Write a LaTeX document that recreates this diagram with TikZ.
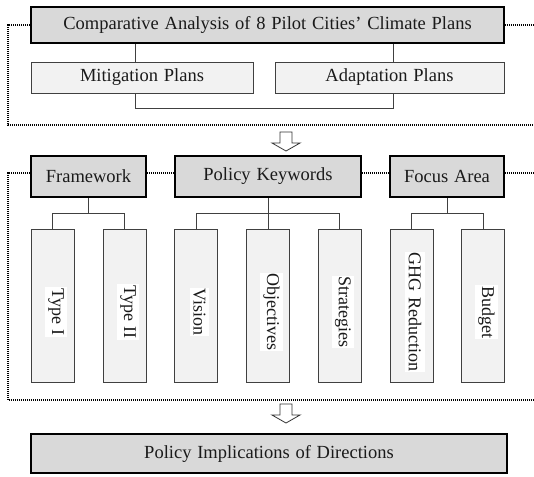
\documentclass[tikz,border=0pt]{standalone}
\usepackage{fontspec}
\setmainfont[WordSpace=1.25]{Liberation Serif}
\usetikzlibrary{calc}
\definecolor{maingray}{HTML}{D9D9D9}
\definecolor{lightgray2}{HTML}{F2F2F2}
\definecolor{txt}{HTML}{1A1A1A}
\tikzset{
  mainbox/.style={draw=black, line width=1.8pt, fill=maingray, inner sep=0pt, text=txt, font=\fontsize{18.5}{21}\selectfont},
  subbox/.style={draw=black!75, line width=0.9pt, fill=lightgray2, inner sep=0pt, text=txt, font=\fontsize{18.5}{21}\selectfont},
  tallbox/.style={draw=black!75, line width=0.9pt, fill=lightgray2, inner sep=0pt, minimum width=43pt, minimum height=153pt},
  vlabel/.style={fill=white, rotate=-90, inner xsep=1pt, inner ysep=3.5pt, text=txt, font=\fontsize{18}{20}\selectfont},
  conn/.style={draw=black!75, line width=0.9pt},
  frame/.style={draw=black, line width=1.8pt, dash pattern=on 1.1pt off 0.9pt},
  hollow/.style={draw=black!80, line width=0.8pt, fill=white, line join=miter}
}
\begin{document}
\begin{tikzpicture}[x=1pt, y=-1pt]
\useasboundingbox[fill=white] (0,0) rectangle (534,476);
\clip (0,0) rectangle (534,476);

% ---- block 1
\node[mainbox, minimum width=473pt, minimum height=36pt] (top) at (267.5,25) {Comparative Analysis of 8 Pilot Cities' Climate Plans};
\node[subbox, minimum width=222pt, minimum height=31pt] (mit) at (142,77.5) {Mitigation Plans};
\node[subbox, minimum width=229pt, minimum height=31pt] (ada) at (389.5,77.5) {Adaptation Plans};

\coordinate (fa) at (8,25);
\coordinate (fb) at (8,125);
\coordinate (fc) at (540,125);
\coordinate (fd) at (540,25);
\draw[frame] (top.west) -- (fa) -- (fb) -- (fc);
\draw[frame] (top.east) -- (fd);

\draw[conn] (top.south -| 135,0) -- (mit.north -| 135,0);
\draw[conn] (top.south -| 393,0) -- (ada.north -| 393,0);
\coordinate (bm) at (135,108);
\coordinate (ba) at (393,108);
\draw[conn] (mit.south -| bm) -- (bm) -- (ba) -- (ada.south -| ba);

% ---- arrow 1
\coordinate (a1) at (286,132);
\draw[hollow] ($(a1)+(-6,0)$) -- ($(a1)+(6,0)$) -- ($(a1)+(6,11)$) -- ($(a1)+(14,11)$) -- ($(a1)+(0,19)$) -- ($(a1)+(-14,11)$) -- ($(a1)+(-6,11)$) -- cycle;

% ---- block 2
\node[mainbox, minimum width=115pt, minimum height=41pt] (fw) at (88.5,176.5) {Framework};
\node[mainbox, minimum width=186pt, minimum height=41pt] (pk) at (268,176.5) {Policy Keywords};
\node[mainbox, minimum width=114pt, minimum height=41pt] (fo) at (447,176.5) {Focus Area};

\coordinate (ga) at (8,173);
\coordinate (gb) at (8,400);
\coordinate (gc) at (540,400);
\coordinate (gd) at (540,173);
\draw[frame] (fw.west |- ga) -- (ga) -- (gb) -- (gc);
\draw[frame] (fw.east |- ga) -- (pk.west |- ga);
\draw[frame] (pk.east |- ga) -- (fo.west |- ga);
\draw[frame] (fo.east |- ga) -- (gd);

\foreach \n/\x/\t in {t1/52.5/Type I, t2/124.5/Type II, vi/196/Vision, ob/268/Objectives, st/339.5/Strategies, gh/411.5/GHG Reduction, bu/483/Budget}{
  \node[tallbox] (\n) at (\x,305.5) {};
  \node[vlabel] (\n l) at (\x+3.5,312) {\t\hspace{11pt}};
}

\draw[conn] (fw.south) -- (fw.south |- 0,213);
\draw[conn] (t1.north) -- (t1.north |- 0,213) -- (t2.north |- 0,213) -- (t2.north);
\draw[conn] (pk.south) -- (ob.north);
\draw[conn] (vi.north) -- (vi.north |- 0,213) -- (st.north |- 0,213) -- (st.north);
\draw[conn] (fo.south) -- (fo.south |- 0,213);
\draw[conn] (gh.north) -- (gh.north |- 0,213) -- (bu.north |- 0,213) -- (bu.north);

% ---- arrow 2
\coordinate (a2) at (286,404);
\draw[hollow] ($(a2)+(-6,0)$) -- ($(a2)+(6,0)$) -- ($(a2)+(6,11)$) -- ($(a2)+(14,11)$) -- ($(a2)+(0,19)$) -- ($(a2)+(-14,11)$) -- ($(a2)+(-6,11)$) -- cycle;

% ---- block 3
\node[mainbox, minimum width=476pt, minimum height=39pt] (pi) at (269,453.5) {Policy Implications of Directions};
\end{tikzpicture}
\end{document}
